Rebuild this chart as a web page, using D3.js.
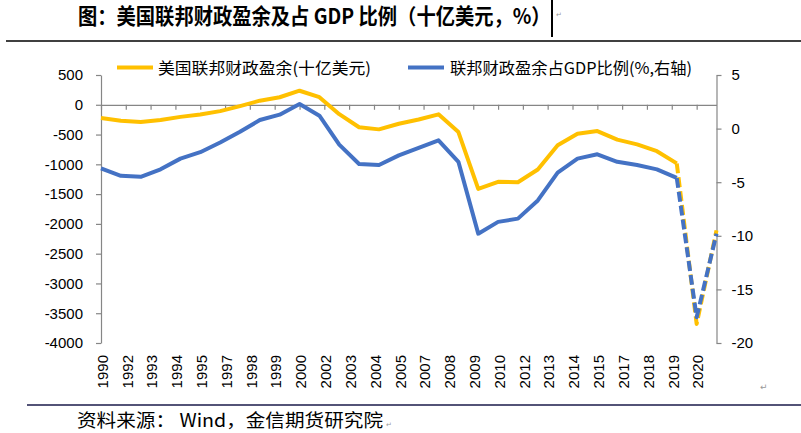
<!DOCTYPE html>
<html><head><meta charset="utf-8">
<script src="https://cdn.jsdelivr.net/npm/d3@7"></script>
<style>body{margin:0;background:#fff;} svg{display:block;}</style>
</head><body><svg id="c" width="801" height="433"></svg>
<script>
// ---- data ----
const years = [1990,1991,1992,1993,1994,1995,1996,1997,1998,1999,2000,2001,2002,2003,2004,2005,2006,2007,2008,2009,2010,2011,2012,2013,2014,2015,2016,2017,2018,2019,2020,2021];
const surplus = [-221,-269,-290,-255,-203,-164,-107,-22,69,126,236,128,-158,-378,-413,-318,-248,-161,-459,-1413,-1294,-1300,-1087,-680,-485,-442,-585,-665,-779,-984,-3680,-2110];
const surplusPctGDP = [-3.7,-4.4,-4.5,-3.8,-2.8,-2.2,-1.3,-0.3,0.8,1.3,2.3,1.2,-1.5,-3.3,-3.4,-2.5,-1.8,-1.1,-3.1,-9.8,-8.7,-8.4,-6.7,-4.1,-2.8,-2.4,-3.1,-3.4,-3.8,-4.6,-17.6,-9.8];
const firstEstimateIndex = 29; // dashed from 2019 onward
const xTickDates = ["1990-12-31","1992-03-31","1993-06-30","1994-09-30","1995-12-31","1997-03-31","1998-06-30","1999-09-30","2000-12-31","2002-03-31","2003-06-30","2004-09-30","2005-12-31","2007-03-31","2008-06-30","2009-09-30","2010-12-31","2012-03-31","2013-06-30","2014-09-30","2015-12-31","2017-03-31","2018-06-30","2019-09-30","2020-12-31"];
const leftTicks = [500,0,-500,-1000,-1500,-2000,-2500,-3000,-3500,-4000];
const rightTicks = [5,0,-5,-10,-15,-20];
const seriesNames = ["美国联邦财政盈余(十亿美元)","联邦财政盈余占GDP比例(%,右轴)"];
const titleText = "图：美国联邦财政盈余及占 GDP 比例（十亿美元，%）";
const sourceText = "资料来源： Wind，金信期货研究院";

// ---- layout ----
const svg = d3.select("#c");
const parse = d3.utcParse("%Y-%m-%d");
const COLORS = ["#FFC000", "#4472C4"];
const AX = "#868686";
const plot = {left: 101, right: 716.5, top: 75, bottom: 343};

const x = d3.scaleUtc().domain([parse("1990-12-31"), parse("2021-12-31")]).range([plot.left, plot.right]);
const yL = d3.scaleLinear().domain([-4000, 500]).range([plot.bottom, plot.top]);
const yR = d3.scaleLinear().domain([-20, 5]).range([plot.bottom, plot.top]);

const pts = years.map((yr, i) => ({d: parse(yr + "-12-31"), a: surplus[i], b: surplusPctGDP[i], i}));

// title
svg.append("text").attr("transform", "translate(78,24) scale(1,1.1)")
  .attr("font-family", "'Noto Sans CJK SC'").attr("font-weight", 700).attr("font-size", 19.3)
  .attr("fill", "#000").text(titleText);
svg.append("line").attr("x1", 552).attr("x2", 552).attr("y1", 0).attr("y2", 37).attr("stroke", "#000").attr("stroke-width", 2);
svg.append("text").attr("x", 556).attr("y", 17).attr("font-size", 7).attr("fill", "#999").attr("font-family","'DejaVu Sans'").text("↵");
svg.append("line").attr("x1", 6).attr("x2", 801).attr("y1", 41).attr("y2", 41).attr("stroke", "#000").attr("stroke-width", 1.5);

// footer
svg.append("line").attr("x1", 27).attr("x2", 801).attr("y1", 405).attr("y2", 405).attr("stroke", "#1a1a4a").attr("stroke-width", 1.5);
svg.append("text").attr("x", 77).attr("y", 427)
  .attr("font-family", "'Noto Sans CJK SC'").attr("font-size", 18)
  .attr("textLength", 306).attr("lengthAdjust", "spacingAndGlyphs")
  .attr("fill", "#000").text(sourceText);
svg.append("text").attr("x", 386).attr("y", 427).attr("font-size", 7).attr("fill", "#999").attr("font-family","'DejaVu Sans'").text("↵");
svg.append("text").attr("x", 760).attr("y", 390).attr("font-size", 9).attr("fill", "#999").attr("font-family","'DejaVu Sans'").text("↵");

// left axis
const gL = svg.append("g").attr("transform", `translate(${plot.left},0)`)
  .call(d3.axisLeft(yL).tickValues(leftTicks).tickSize(5).tickSizeOuter(0).tickPadding(13).tickFormat(d3.format("d")));
// right axis
const gR = svg.append("g").attr("transform", `translate(${plot.right},0)`)
  .call(d3.axisRight(yR).tickValues(rightTicks).tickSize(5).tickSizeOuter(0).tickPadding(10).tickFormat(d3.format("d")));
[gL, gR].forEach(g => {
  g.select(".domain").attr("stroke", AX).attr("stroke-width", 1.2);
  g.selectAll(".tick line").attr("stroke", AX).attr("stroke-width", 1.2);
  g.selectAll(".tick text").attr("font-family", "'Liberation Sans', Arial, sans-serif").attr("font-size", 15).attr("fill", "#000");
});
gL.selectAll(".tick text").text(d => d3.format("d")(d).replace("−", "-"));
gR.selectAll(".tick text").text(d => d3.format("d")(d).replace("−", "-"));

// x axis crossing at 0
const gX = svg.append("g").attr("transform", `translate(0,${yL(0)})`)
  .call(d3.axisBottom(x).tickValues(xTickDates.map(parse)).tickSize(5).tickSizeOuter(0).tickFormat(""));
gX.select(".domain").attr("stroke", AX).attr("stroke-width", 1.2);
gX.selectAll(".tick line").attr("stroke", AX).attr("stroke-width", 1.2);

// x labels at bottom, rotated
svg.append("g").selectAll("text").data(xTickDates.map(parse)).join("text")
  .attr("transform", d => `translate(${x(d) + 1.5},355) rotate(-90)`)
  .attr("text-anchor", "end").attr("dy", "0.35em")
  .attr("font-family", "'Liberation Sans', Arial, sans-serif").attr("font-size", 15).attr("fill", "#000")
  .text(d3.utcFormat("%Y"));

// lines
const lineA = d3.line().x(p => x(p.d)).y(p => yL(p.a));
const lineB = d3.line().x(p => x(p.d)).y(p => yR(p.b));
const solid = pts.filter(p => p.i <= firstEstimateIndex);
const dashed = pts.filter(p => p.i >= firstEstimateIndex);

svg.append("path").datum(solid).attr("d", lineA).attr("fill", "none").attr("stroke", COLORS[0]).attr("stroke-width", 4).attr("stroke-linejoin", "round");
svg.append("path").datum(solid).attr("d", lineB).attr("fill", "none").attr("stroke", COLORS[1]).attr("stroke-width", 4).attr("stroke-linejoin", "round");
svg.append("path").datum(dashed).attr("d", lineA).attr("fill", "none").attr("stroke", COLORS[0]).attr("stroke-width", 4).attr("stroke-dasharray", "10,4").attr("stroke-linejoin", "round");
svg.append("path").datum(dashed).attr("d", lineB).attr("fill", "none").attr("stroke", COLORS[1]).attr("stroke-width", 4).attr("stroke-dasharray", "10,4").attr("stroke-linejoin", "round");

// legend
const legend = [
  {x: 117, tx: 158, w: 213},
  {x: 408, tx: 450, w: 242}
];
legend.forEach((l, i) => {
  svg.append("line").attr("x1", l.x).attr("x2", l.x + 36).attr("y1", 67.5).attr("y2", 67.5)
    .attr("stroke", COLORS[i]).attr("stroke-width", 4);
  svg.append("text").attr("x", l.tx).attr("y", 73.5)
    .attr("font-family", "'Noto Sans CJK SC'").attr("font-size", 16)
    .attr("textLength", l.w).attr("lengthAdjust", "spacingAndGlyphs")
    .attr("fill", "#000").text(seriesNames[i]);
});
</script></body></html>
